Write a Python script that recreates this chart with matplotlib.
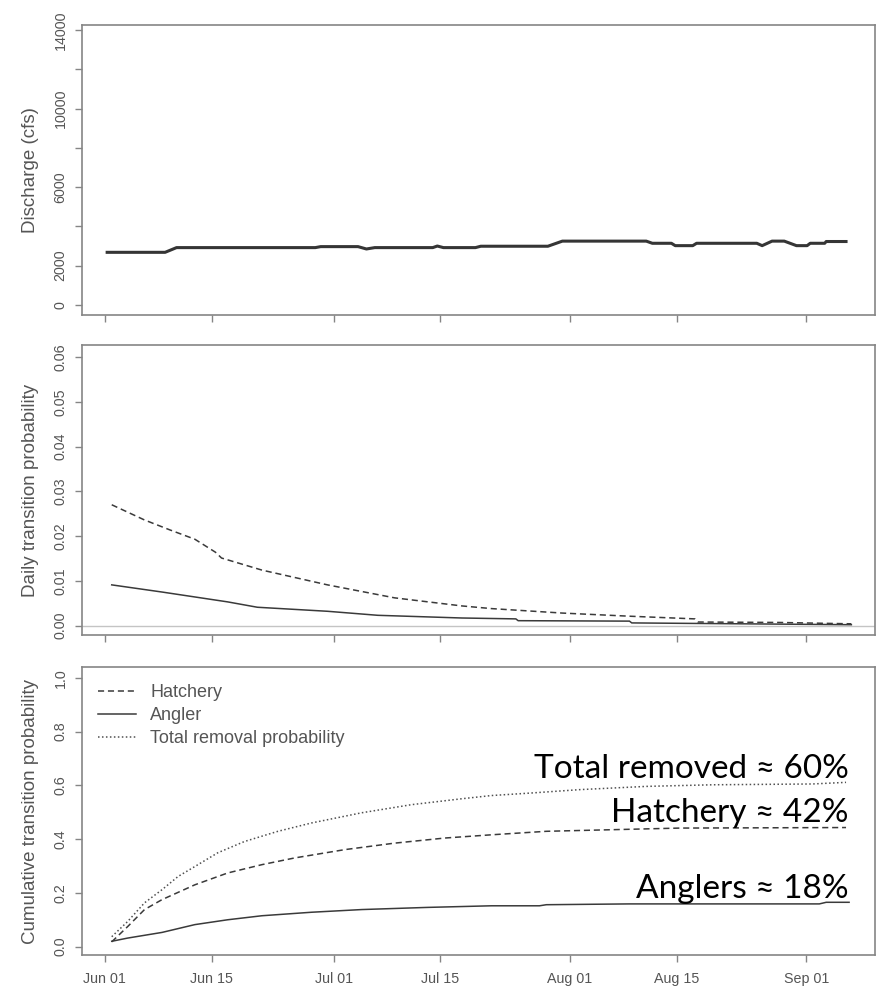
import numpy as np
import matplotlib.pyplot as plt

plt.rcParams['font.family'] = ['Liberation Sans', 'DejaVu Sans']

# x axis is days since Jun 01
tick_days = [0, 14, 30, 44, 61, 75, 92]
tick_labels = ["Jun 01", "Jun 15", "Jul 01", "Jul 15", "Aug 01", "Aug 15", "Sep 01"]

# river discharge (cfs)
q_days = [0.3, 7.9, 9.4, 27.6, 28.3, 33.2, 34.3, 35.4, 43.0, 43.6, 44.4, 48.6,
          49.3, 58.1, 60.0, 71.0, 71.8, 74.3, 74.8, 77.1, 77.6, 85.5, 86.2, 87.5,
          89.1, 90.7, 92.1, 92.5, 94.4, 94.6, 97.2]
q_cfs = [2680, 2680, 2920, 2920, 2970, 2970, 2850, 2920, 2920, 3000, 2920, 2920,
         2990, 2990, 3250, 3250, 3140, 3140, 3020, 3020, 3140, 3140, 3020, 3250,
         3250, 3020, 3020, 3140, 3140, 3230, 3230]

# daily transition probabilities
hd_days = [0.9, 5.2, 8.5, 11.8, 14.5, 15.3, 20.6, 29.2, 38.0, 46.8, 50.7, 60.0,
           68.8, 77.4, 77.8, 88.5, 97.9]
hd_prob = [0.0270, 0.0236, 0.0214, 0.0193, 0.0164, 0.0151, 0.0124, 0.0091, 0.0062,
           0.0044, 0.0038, 0.0028, 0.0021, 0.0015, 0.0008, 0.0007, 0.0004]
ad_days = [0.9, 7.5, 16.1, 20.0, 29.2, 35.8, 46.8, 53.9, 54.2, 68.8, 69.1, 97.9]
ad_prob = [0.0091, 0.0075, 0.0053, 0.0041, 0.0032, 0.0023, 0.0017, 0.0015, 0.0011,
           0.0010, 0.0006, 0.0002]

# cumulative transition probabilities
tc_days = [0.9, 3.0, 5.2, 7.5, 9.6, 11.8, 14.8, 18.3, 22.7, 27.1, 33.7, 40.2,
           46.8, 50.7, 55.7, 62.3, 71.0, 79.7, 92.8, 97.2]
tc_prob = [0.037, 0.094, 0.163, 0.212, 0.261, 0.298, 0.349, 0.391, 0.429, 0.460,
           0.498, 0.528, 0.550, 0.562, 0.571, 0.584, 0.596, 0.602, 0.605, 0.611]
hc_days = [0.9, 3.0, 5.2, 7.5, 11.8, 16.1, 20.6, 24.9, 31.5, 38.0, 44.6, 50.7,
           57.9, 66.6, 75.4, 97.2]
hc_prob = [0.018, 0.075, 0.138, 0.175, 0.230, 0.274, 0.305, 0.330, 0.361, 0.385,
           0.404, 0.416, 0.429, 0.435, 0.441, 0.443]
ac_days = [0.9, 3.0, 7.5, 11.8, 16.1, 20.6, 27.1, 33.7, 42.3, 50.7, 57.0, 57.9,
           68.8, 93.7, 94.6, 97.6]
ac_prob = [0.020, 0.032, 0.053, 0.082, 0.100, 0.115, 0.128, 0.138, 0.146, 0.152,
           0.152, 0.156, 0.159, 0.159, 0.165, 0.165]

notes = ["Total removed \u2248 60%", "Hatchery \u2248 42%", "Anglers \u2248 18%"]

LINE = '#3a3a3a'
FRAME = '#858585'
TXT = '#555555'
DASH = (0, (4, 2.5))
DOT = (0, (1, 1.6))

fig = plt.figure(figsize=(8.79, 9.88), dpi=100)
left, width = 82 / 879, 793 / 879
ax1 = fig.add_axes([left, 1 - 315 / 988, width, 290 / 988])
ax2 = fig.add_axes([left, 1 - 635 / 988, width, 290 / 988])
ax3 = fig.add_axes([left, 1 - 955 / 988, width, 288 / 988])

ax1.plot(q_days, q_cfs, color='#353535', lw=2.2, solid_joinstyle='round')
ax1.set_ylim(-510, 14250)
ax1.set_yticks(np.arange(0, 14001, 2000))
ax1.set_yticklabels(["0", "2000", "", "6000", "", "10000", "", "14000"])
ax1.set_ylabel("Discharge (cfs)")

ax2.axhline(0, color='#c4c4c4', lw=1.0)
ax2.plot(hd_days, hd_prob, color=LINE, lw=1.1, linestyle=DASH)
ax2.plot(ad_days, ad_prob, color=LINE, lw=1.1)
ax2.set_ylim(-0.0021, 0.0627)
ax2.set_yticks(np.arange(0, 0.061, 0.01))
ax2.set_yticklabels(["0.00", "0.01", "0.02", "0.03", "0.04", "0.05", "0.06"])
ax2.set_ylabel("Daily transition probability")

h_line, = ax3.plot(hc_days, hc_prob, color=LINE, lw=1.1, linestyle=DASH, label="Hatchery")
a_line, = ax3.plot(ac_days, ac_prob, color=LINE, lw=1.1, label="Angler")
t_line, = ax3.plot(tc_days, tc_prob, color='#505050', lw=1.1, linestyle=DOT,
                   label="Total removal probability")
ax3.set_ylim(-0.031, 1.04)
ax3.set_yticks(np.arange(0, 1.01, 0.2))
ax3.set_yticklabels(["0.0", "0.2", "0.4", "0.6", "0.8", "1.0"])
ax3.set_ylabel("Cumulative transition probability")

leg = ax3.legend(handles=[h_line, a_line, t_line], loc='upper left',
                 bbox_to_anchor=(0.02, 0.94), frameon=False, fontsize=13,
                 handlelength=2.1, handletextpad=0.8, labelspacing=0.33,
                 borderpad=0, borderaxespad=0)
for t in leg.get_texts():
    t.set_color(TXT)

# summary labels
note_y = [0.6146, 0.4618, 0.198]
for txt, y in zip(notes, note_y):
    ax3.text(0.967, y, txt, transform=ax3.transAxes, ha='right', va='baseline',
             fontsize=24, color='black', family=['Lato', 'DejaVu Sans'])

for ax in (ax1, ax2, ax3):
    ax.set_xlim(-3, 101)
    ax.set_xticks(tick_days)
    ax.set_xticklabels(tick_labels if ax is ax3 else [])
    for s in ax.spines.values():
        s.set_color(FRAME)
        s.set_linewidth(1.2)
    ax.tick_params(axis='both', direction='out', length=5, width=1, color=FRAME,
                   labelcolor=TXT, labelsize=10.3)
    ax.tick_params(axis='y', pad=5.5)
    ax.tick_params(axis='x', pad=7)
    for lab in ax.get_yticklabels():
        lab.set_rotation(90)
        lab.set_va('center')
    ax.yaxis.label.set_color(TXT)
    ax.yaxis.label.set_fontsize(13.5)
    ax.yaxis.set_label_coords(-0.054, 0.5)

fig.savefig('out.png', dpi=100, facecolor='white')
